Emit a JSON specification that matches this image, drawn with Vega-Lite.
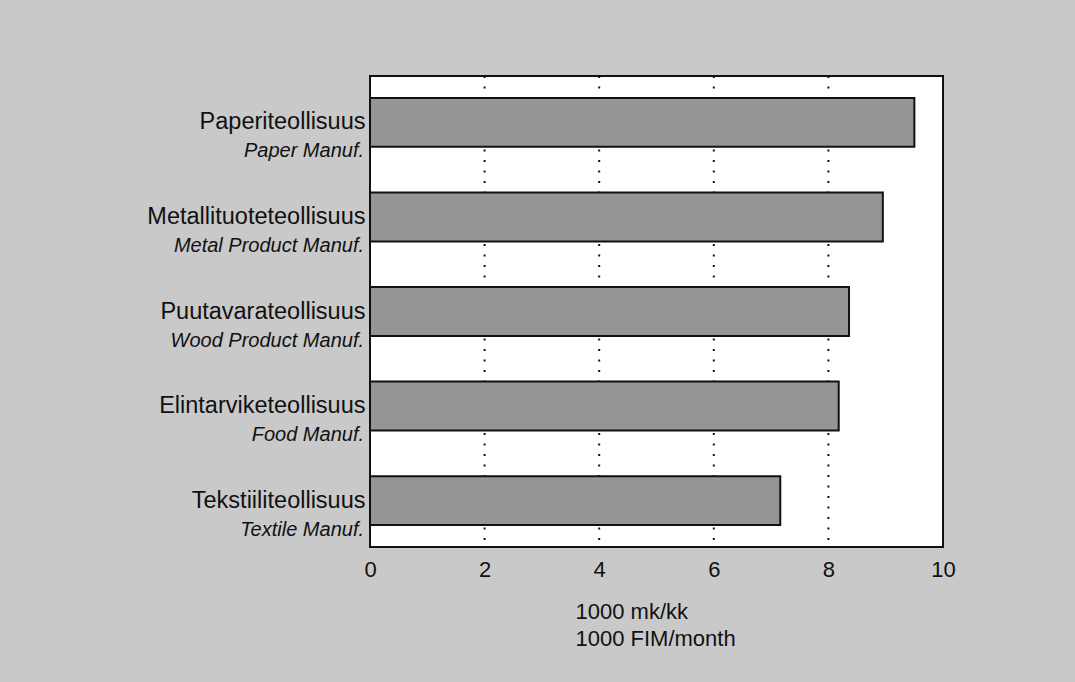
{
  "$schema": "https://vega.github.io/schema/vega-lite/v6.json",
  "width": 573,
  "height": 471,
  "autosize": "none",
  "padding": {"left": 370, "top": 76, "right": 132, "bottom": 135},
  "background": "#c9c9c9",
  "config": {
    "view": {"fill": "white", "stroke": "#111111", "strokeWidth": 2},
    "font": "Liberation Sans"
  },
  "datasets": {
    "bars": [
      {"fi": "Paperiteollisuus", "en": "Paper Manuf.", "value": 9.5},
      {"fi": "Metallituoteteollisuus", "en": "Metal Product Manuf.", "value": 8.95},
      {"fi": "Puutavarateollisuus", "en": "Wood Product Manuf.", "value": 8.36},
      {"fi": "Elintarviketeollisuus", "en": "Food Manuf.", "value": 8.18},
      {"fi": "Tekstiiliteollisuus", "en": "Textile Manuf.", "value": 7.16}
    ],
    "grid": [{"g": 2}, {"g": 4}, {"g": 6}, {"g": 8}]
  },
  "layer": [
    {
      "data": {"name": "grid"},
      "mark": {"type": "rule", "color": "#111111", "strokeWidth": 2, "strokeDash": [2, 8.5]},
      "encoding": {
        "x": {"field": "g", "type": "quantitative"}
      }
    },
    {
      "data": {"name": "bars"},
      "mark": {"type": "bar", "fill": "#959595", "stroke": "#111111", "strokeWidth": 2},
      "encoding": {
        "y": {
          "field": "fi",
          "type": "nominal",
          "sort": null,
          "scale": {"paddingInner": 0.483, "paddingOuter": 0.232},
          "axis": {
            "title": null,
            "ticks": false,
            "domain": false,
            "labelFontSize": 23.5,
            "labelLimit": 400,
            "labelColor": "#111111",
            "labelPadding": 5,
            "labelFont": "Liberation Sans"
          }
        },
        "x": {
          "field": "value",
          "type": "quantitative",
          "scale": {"domain": [0, 10], "nice": false},
          "axis": {
            "values": [0, 2, 4, 6, 8, 10],
            "format": "d",
            "grid": false,
            "ticks": false,
            "domain": false,
            "labelFlush": false,
            "labelFontSize": 22,
            "labelColor": "#111111",
            "labelPadding": 12,
            "title": ["1000 mk/kk", "1000 FIM/month"],
            "titleFontSize": 22,
            "titleFontWeight": "normal",
            "titleColor": "#111111",
            "titleAlign": "left",
            "titleBaseline": "alphabetic",
            "titleX": 205,
            "titleY": 71,
            "titleLineHeight": 27
          }
        }
      }
    },
    {
      "data": {"name": "bars"},
      "mark": {
        "type": "text",
        "align": "right",
        "baseline": "middle",
        "dx": -6,
        "dy": 29,
        "fontSize": 20,
        "fontStyle": "italic",
        "color": "#111111"
      },
      "encoding": {
        "y": {"field": "fi", "type": "nominal", "sort": null},
        "x": {"datum": 0, "type": "quantitative"},
        "text": {"field": "en"}
      }
    }
  ]
}
